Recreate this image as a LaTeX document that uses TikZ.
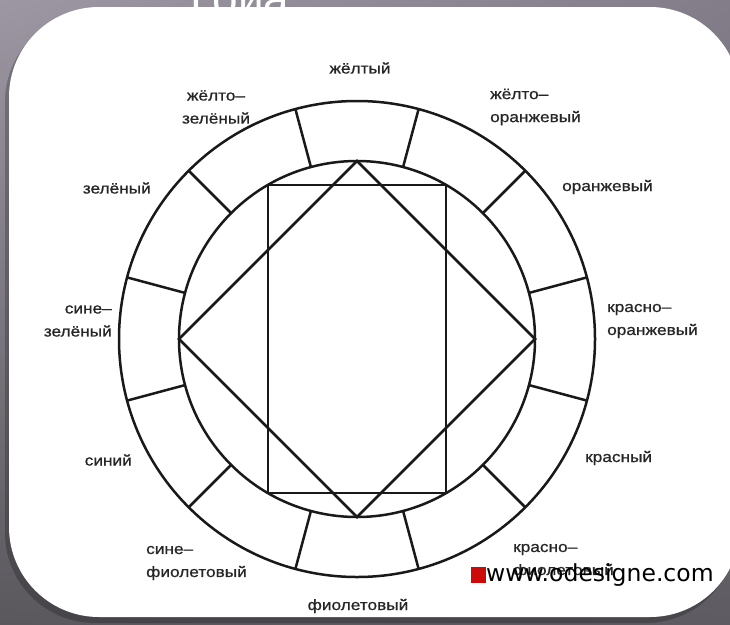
\documentclass[tikz,border=0pt]{standalone}
\usepackage{fontspec}
\usetikzlibrary{calc,shadings}
\newfontfamily\lab[FakeStretch=1.15,FakeBold=0.8]{Liberation Sans}
\newfontfamily\wmfont{DejaVu Sans}
\newfontfamily\ttlfont{Liberation Sans}
\definecolor{bgA}{HTML}{9C97A2}
\definecolor{bgB}{HTML}{827D88}
\definecolor{bgC}{HTML}{5E5B62}
\definecolor{bgD}{HTML}{5A575D}
\definecolor{wmred}{HTML}{CC0A0A}
\begin{document}
\begin{tikzpicture}[x=1pt,y=-1pt,
  lbl/.style={font=\lab\fontsize{15}{23}\selectfont, text=black!85, inner sep=0pt},
  ring/.style={line width=2.5pt, draw=black!90},
]
\useasboundingbox (0,0) rectangle (730,624);
% background
\shade[upper left=bgA, upper right=bgB, lower left=bgD, lower right=bgC] (0,0) rectangle (730,624);
% title fragment
\node[font=\ttlfont\fontsize{46}{46}\selectfont, text=white, anchor=base, inner sep=0pt] (title) at (240,14) {Гоиа};
% panel shadow and panel
\fill[black, opacity=0.22, rounded corners=90pt] (5,12) rectangle (736,623);
\fill[white, rounded corners=90pt] (9,7) rectangle (740,617);

% wheel
\coordinate (c) at (357,339);
\draw[ring] (c) circle[radius=238];
\draw[ring] (c) circle[radius=178];
\foreach \a in {15,45,...,345}
  \draw[ring] ($(c)+(\a:178)$) -- ($(c)+(\a:238)$);
\coordinate (dT) at ($(c)+(0,-178)$);
\coordinate (dR) at ($(c)+(178,0)$);
\coordinate (dB) at ($(c)+(0,178)$);
\coordinate (dL) at ($(c)+(-178,0)$);
\draw[ring, line join=miter] (dT) -- (dR) -- (dB) -- (dL) -- cycle;
\coordinate (r1) at ($(c)+(-89,-154)$);
\coordinate (r2) at ($(c)+(89,154)$);
\draw[ring] (r1) rectangle (r2);

% labels
\node[lbl] (yel) at (360,68) {жёлтый};
\node[lbl, align=center] (yg) at (216,107) {жёлто–\\зелёный};
\node[lbl, align=left, anchor=west] (yo) at (490,107) {жёлто–\\оранжевый};
\node[lbl, anchor=east] (gr) at (151,188) {зелёный};
\node[lbl, anchor=west] (or) at (562,187) {оранжевый};
\node[lbl, align=right, anchor=east] (bg) at (112,321) {сине–\\зелёный};
\node[lbl, align=left, anchor=west] (ro) at (607,321) {красно–\\оранжевый};
\node[lbl, anchor=east] (bl) at (132,460) {синий};
\node[lbl, anchor=west] (re) at (585,458) {красный};
\node[lbl, align=left, anchor=west] (bv) at (146,563) {сине–\\фиолетовый};
\node[lbl] (vi) at (358,606) {фиолетовый};
\node[lbl, align=left, anchor=west] (rv) at (513,561) {красно–\\фиолетовый};

% watermark
\fill[wmred] (471,567) rectangle (486,583);
\node[font=\wmfont\fontsize{23.5}{23.5}\selectfont, text=black, anchor=west, inner sep=0pt] (wm) at (486,575) {www.odesigne.com};
\end{tikzpicture}
\end{document}
